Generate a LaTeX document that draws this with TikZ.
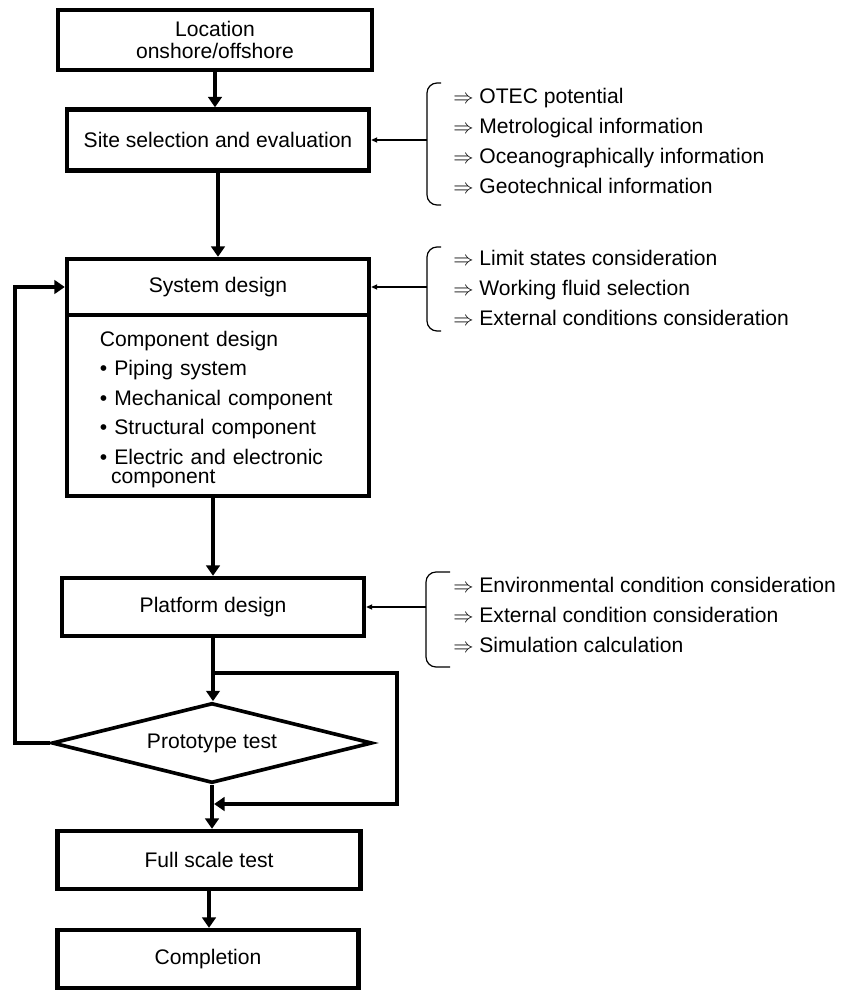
\documentclass[tikz,border=0pt]{standalone}
\usepackage{fontspec}
\setmainfont{Liberation Sans}
\usepackage{tikz}
\usetikzlibrary{arrows.meta}
\usetikzlibrary{shapes.geometric}

\begin{document}
\begin{tikzpicture}[
    x=0.025cm, y=-0.025cm,
    font=\fontsize{15}{15.5}\selectfont,
    stage/.style={rectangle, draw, line width=3.1pt, minimum width=7.55cm, minimum height=1.45cm, inner sep=0pt, align=center},
    decision/.style={diamond, draw, line width=2.6pt, aspect=4, minimum width=8cm, minimum height=2cm, inner sep=0pt},
    flow/.style={line width=2.3pt, -{Triangle[length=0.26cm, width=0.34cm]}},
    feed/.style={line width=0.85pt, -{Triangle[length=0.15cm, width=0.13cm]}},
    curl/.style={line width=0.85pt, rounded corners=0.25cm},
    notes/.style={anchor=west, align=left, inner sep=0pt, font=\fontsize{15}{21.3}\selectfont}
]
    \useasboundingbox (0,0) rectangle (842,990);

    % Main column
    \node[stage, minimum width=7.85cm, minimum height=1.5cm] (loc) at (215,40) {Location\\onshore/offshore};
    \node[stage, minimum height=1.525cm] (site) at (218,140) {Site selection and evaluation};
    \node[stage, minimum height=1.4cm] (sys) at (218,287) {System design};
    \node[stage, minimum height=4.525cm, text width=5.9cm, align=left,
          font=\fontsize{15}{21}\selectfont] (comp) at (218,405.5) {\rule{0pt}{16pt}Component design\\
        \textbullet\ Piping system\\
        \textbullet\ Mechanical component\\
        \textbullet\ Structural component\\
        \textbullet\ Electric and electronic\\[-7.5pt]
        \hspace*{0.28cm}component};
    \node[stage] (plat) at (213,607) {Platform design};
    \node[decision] (proto) at (212,743) {Prototype test};
    \node[stage, minimum width=7.575cm] (full) at (209,860) {Full scale test};
    \node[stage, minimum width=7.525cm] (done) at (208,959) {Completion};

    % Inputs
    \node[notes] (siteinfo) at (453,141) {$\Rightarrow$ OTEC potential\\
        $\Rightarrow$ Metrological information\\
        $\Rightarrow$ Oceanographically information\\
        $\Rightarrow$ Geotechnical information};
    \node[notes] (sysinfo) at (453,288) {$\Rightarrow$ Limit states consideration\\
        $\Rightarrow$ Working fluid selection\\
        $\Rightarrow$ External conditions consideration};
    \node[notes] (platinfo) at (453,615) {$\Rightarrow$ Environmental condition consideration\\
        $\Rightarrow$ External condition consideration\\
        $\Rightarrow$ Simulation calculation};

    \coordinate (c1) at (427,140);
    \coordinate (c2) at (427,287);
    \coordinate (c3) at (426,607);
    \draw[curl] (441,83) -| (c1) |- (441,205);
    \draw[curl] (441,247) -| (c2) |- (441,331);
    \draw[curl] (450,572) -| (c3) |- (450,667);

    % Flow
    \draw[flow] (loc.south) -- (loc.south |- site.north);
    \draw[flow] (site.south) -- (site.south |- sys.north);
    \draw[flow] (plat.north |- comp.south) -- (plat.north);
    \draw[flow] (plat.south) -- (plat.south |- proto.north);
    \draw[flow] (proto.south) -- (proto.south |- full.north);
    \draw[flow] (full.south) -- (full.south |- done.north);

    % Loops
    \coordinate (back) at (15,500);
    \coordinate (split) at (213,673);
    \coordinate (turn) at (397,804);
    \draw[flow] (proto.west) -| (back) |- (sys.west);
    \draw[flow, shorten >=1.5pt] (split) -| (turn) -- (turn -| proto.south);

    \draw[feed] (c1) -- (site.east);
    \draw[feed] (c2) -- (sys.east);
    \draw[feed] (c3) -- (plat.east);
\end{tikzpicture}
\end{document}
